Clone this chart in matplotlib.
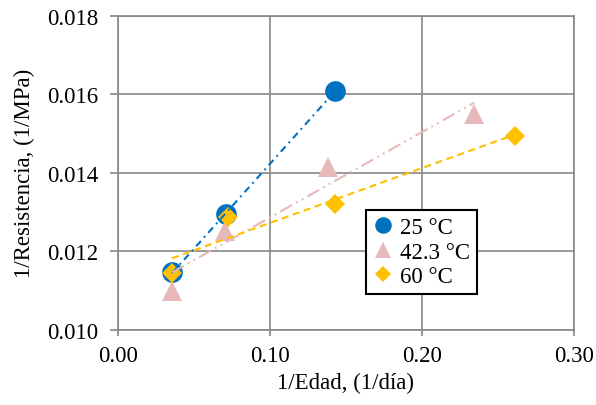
import numpy as np
import matplotlib
matplotlib.use("Agg")
import matplotlib.pyplot as plt

# Data (1/age in 1/day, 1/strength in 1/MPa)
x25 = [0.0357, 0.0712, 0.1429]
y25 = [0.01147, 0.01294, 0.01609]
x42 = [0.0357, 0.0705, 0.1382, 0.2344]
y42 = [0.01100, 0.01252, 0.01414, 0.01550]
x60 = [0.0357, 0.0724, 0.1430, 0.2610]
y60 = [0.01144, 0.01287, 0.01321, 0.01494]
labels = ["25 °C", "42.3 °C", "60 °C"]
xticks = [0.00, 0.10, 0.20, 0.30]
yticks = [0.010, 0.012, 0.014, 0.016, 0.018]

plt.rcParams['font.family'] = ['Liberation Serif', 'DejaVu Serif']
FS = 16.5
GRAY = '#878787'

fig = plt.figure(figsize=(5.96, 4.06), dpi=100)
ax = fig.add_axes([0.1975, 0.1847, 0.7655, 0.7743])

c_blue, c_pink, c_gold = '#0070C0', '#E6B9B8', '#FFC000'

series = [
    (x25, y25, 'o', 14.9, c_blue, (0, (3.4, 2.2, 0.9, 2.2))),
    (x42, y42, '^', 14.4, c_pink, (0, (6.5, 2.2, 0.9, 2.2, 0.9, 2.2))),
    (x60, y60, 'D', 10.2, c_gold, (0, (3.4, 2.2))),
]
handles = []
for i, (xs, ys, m, ms, c, ls) in enumerate(series):
    h, = ax.plot(xs, ys, linestyle='none', marker=m, markersize=ms,
                 color=c, markeredgewidth=0, zorder=3 + i * 0.1, label=labels[i],
                 clip_on=False)
    handles.append(h)
for (xs, ys, m, ms, c, ls) in series:
    xs_a = np.array(xs); ys_a = np.array(ys)
    k, b = np.polyfit(xs_a, ys_a, 1)
    xx = np.array([xs_a.min(), xs_a.max()])
    ax.plot(xx, k * xx + b, color=c, lw=1.5, linestyle=ls, zorder=5)

ax.set_xlim(0, 0.30)
ax.set_ylim(0.010, 0.018)
ax.set_xticks(xticks)
ax.set_yticks(yticks)
ax.set_xticklabels([f"{v:.2f}" for v in xticks], fontsize=FS)
ax.set_yticklabels([f"{v:.3f}" for v in yticks], fontsize=FS)
ax.grid(True, color=GRAY, lw=1.2, zorder=0)
ax.set_axisbelow(True)
for s in ax.spines.values():
    s.set_color(GRAY)
    s.set_linewidth(1.2)
ax.tick_params(axis='y', direction='out', length=5.8, width=1.2, color=GRAY, pad=8)
ax.tick_params(axis='x', direction='out', length=4, width=1.2, color=GRAY, pad=7)

ax.set_xlabel("1/Edad, (1/día)", fontsize=FS, labelpad=4)
ax.set_ylabel("1/Resistencia, (1/MPa)", fontsize=FS, labelpad=9)

leg = ax.legend(handles=handles, loc='lower left', bbox_to_anchor=(0.544, 0.1145),
                fontsize=FS, frameon=True, fancybox=False, framealpha=1,
                edgecolor='black', markerscale=0.8, handlelength=0.9,
                handletextpad=0.3, labelspacing=0.15, borderpad=0.3,
                borderaxespad=0)
leg.get_frame().set_linewidth(1.5)
leg.set_zorder(10)

fig.savefig('out.png', dpi=100)
